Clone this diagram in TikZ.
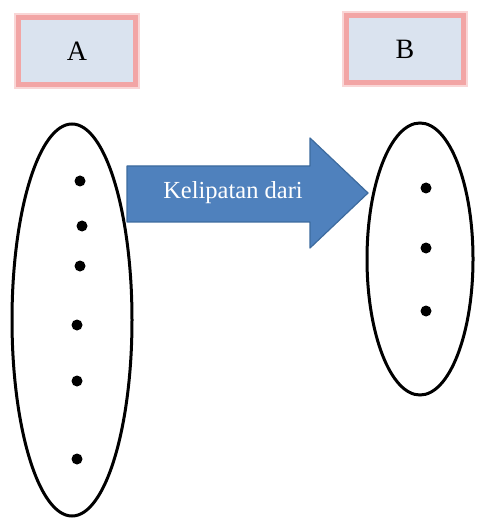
\documentclass[tikz,border=0pt]{standalone}
\usepackage{fontspec}
\setmainfont{Liberation Serif}
\usetikzlibrary{shapes.geometric}
\definecolor{boxfill}{HTML}{DAE3EF}
\definecolor{glow}{HTML}{F2A5A5}
\definecolor{arrfill}{HTML}{4F81BD}
\definecolor{arrline}{HTML}{3C6A9E}
\tikzset{
  setbox/.style={draw=glow, line width=5pt, fill=boxfill, minimum width=117pt, minimum height=67pt, font=\fontsize{28}{30}\selectfont, text=black},
  setoval/.style={ellipse, draw=black, line width=3pt, inner sep=0pt},
  elem/.style={circle, fill=black, inner sep=0pt, minimum size=11pt},
  bigarrow/.style={fill=arrfill, draw=arrline, line width=1.2pt, line join=round}
}
\begin{document}
\begin{tikzpicture}[x=1pt,y=-1pt]
\useasboundingbox (0,0) rectangle (476,518);
\node[setbox, draw opacity=0.45, line width=9pt] at (77,51) {};
\node[setbox, draw opacity=0.45, line width=9pt] at (405,49) {};
\node[setbox] (A) at (77,51) {A};
\node[setbox] (B) at (405,49) {B};
\node[setoval, minimum width=120pt, minimum height=392pt] (SA) at (72,320) {};
\node[setoval, minimum width=106pt, minimum height=272pt] (SB) at (420,259) {};
\foreach \n/\x/\y in {a1/80/181,a2/82/226,a3/80/266,a4/77/325,a5/77/381,a6/77/459}
  \node[elem] (\n) at (\x,\y) {};
\foreach \n/\x/\y in {b1/426/188,b2/426/248,b3/426/311}
  \node[elem] (\n) at (\x,\y) {};
\draw[bigarrow] (127,166) -- (310,166) -- (310,138) -- (368,193) -- (310,248) -- (310,222) -- (127,222) -- cycle;
\node[text=white, font=\fontsize{24.5}{26}\selectfont] (lbl) at (233,193) {Kelipatan dari};
\end{tikzpicture}
\end{document}
